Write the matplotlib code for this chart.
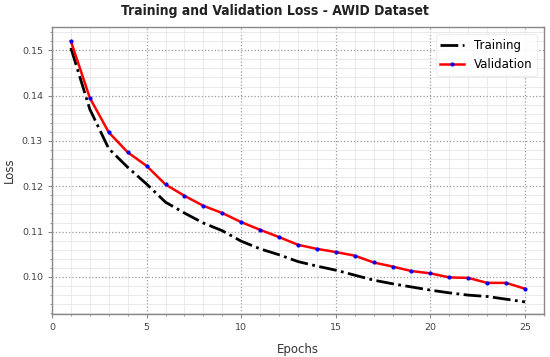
import numpy as np
import matplotlib
matplotlib.use("Agg")
import matplotlib.pyplot as plt
from matplotlib.ticker import MultipleLocator

# Loss values per epoch
epochs = list(range(1, 26))
train_loss = [0.1505, 0.1370, 0.1283, 0.1242, 0.1205, 0.1165, 0.1141, 0.1119,
              0.1102, 0.1079, 0.1062, 0.1049, 0.1034, 0.1024, 0.1015, 0.1004,
              0.0993, 0.0985, 0.0978, 0.0971, 0.0965, 0.0960, 0.0957, 0.0951,
              0.0945]
val_loss = [0.1520, 0.1395, 0.1319, 0.1275, 0.1245, 0.1204, 0.1179, 0.1157,
            0.1141, 0.1121, 0.1104, 0.1088, 0.1071, 0.1062, 0.1055, 0.1047,
            0.1032, 0.1023, 0.1013, 0.1008, 0.0999, 0.0998, 0.0987, 0.0987,
            0.0974]

plt.rcParams['font.family'] = ['DejaVu Sans']

fig = plt.figure(figsize=(5.5, 3.57), dpi=100)
ax = fig.add_axes([0.0945, 0.12, 0.8945, 0.804])

ax.plot(epochs, train_loss, color="black", linestyle="-.", linewidth=2,
        label="Training")
ax.plot(epochs, val_loss, color="red", linewidth=1.8, marker="o",
        markersize=2, markerfacecolor="blue", markeredgecolor="blue",
        label="Validation")

ax.set_xlim(0, 26)
ax.set_ylim(0.0918, 0.1551)
ax.xaxis.set_major_locator(MultipleLocator(5))
ax.xaxis.set_minor_locator(MultipleLocator(1))
ax.yaxis.set_major_locator(MultipleLocator(0.01))
ax.yaxis.set_minor_locator(MultipleLocator(0.002))
ax.yaxis.set_major_formatter(matplotlib.ticker.FormatStrFormatter("%.2f"))

ax.grid(which="major", color="#999999", linestyle=":", linewidth=0.9)
ax.grid(which="minor", color="#e6e6e6", linestyle="-", linewidth=0.6)
ax.set_axisbelow(True)

for s in ax.spines.values():
    s.set_color("#888888")
    s.set_linewidth(1.0)
ax.tick_params(which="both", colors="#888888", labelcolor="#444444",
               labelsize=6.8, direction="out")
ax.tick_params(which="major", length=3)
ax.tick_params(which="minor", length=1.5)

ax.set_xlabel("Epochs", fontsize=8.5, color="#333333", labelpad=8)
ax.set_ylabel("Loss", fontsize=8.5, color="#333333", labelpad=4)
fig.suptitle("Training and Validation Loss - AWID Dataset", fontsize=10,
             fontweight="bold", fontstretch="condensed", color="#222222",
             family=["DejaVu Sans"], y=0.99)

leg = ax.legend(loc="upper right", fontsize=8.5, frameon=True,
                handlelength=2.0, borderaxespad=0.6, framealpha=0.9)
leg.get_frame().set_edgecolor("#eeeeee")

fig.savefig("out.png", dpi=100)
